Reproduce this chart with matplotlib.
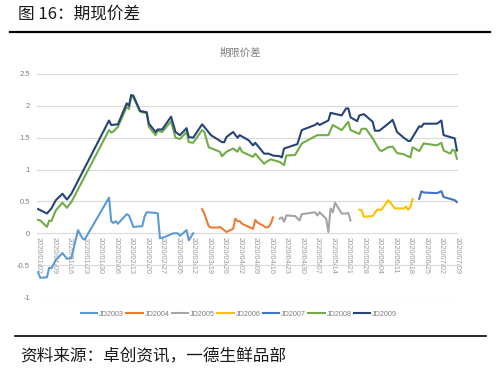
import matplotlib
matplotlib.use("Agg")
import matplotlib.pyplot as plt
import pandas as pd

# ---------------- data ----------------
jd2003_dates = ["01-02","01-03","01-06","01-07","01-08","01-10","01-13","01-15","01-17","01-20","01-22","01-23",
                "02-03","02-04","02-05","02-06","02-07","02-11","02-12","02-14","02-17","02-18","02-19","02-20",
                "02-24","02-25","02-26","02-28","03-03","03-05","03-06","03-09","03-10","03-12"]
jd2003_vals = [-0.61,-0.70,-0.69,-0.54,-0.55,-0.42,-0.31,-0.40,-0.39,0.05,-0.08,-0.10,
               0.56,0.19,0.16,0.19,0.15,0.30,0.28,0.10,0.11,0.11,0.26,0.33,
               0.32,0.31,-0.08,-0.06,0.00,0.00,-0.04,0.05,-0.11,0.00]

jd2004_dates = ["03-16","03-17","03-19","03-20","03-23","03-24","03-26","03-27","03-30","03-31","04-01","04-02",
                "04-03","04-08","04-09","04-10","04-14","04-15","04-16","04-17"]
jd2004_vals = [0.38,0.31,0.11,0.09,0.09,0.10,0.05,0.02,0.07,0.23,0.19,0.19,
               0.15,0.07,0.21,0.17,0.09,0.10,0.15,0.25]

jd2005_dates = ["04-20","04-21","04-22","04-23","04-27","04-29","04-30","05-06","05-07","05-08","05-11","05-12",
                "05-13","05-14","05-15","05-18","05-20","05-21","05-22"]
jd2005_vals = [0.23,0.25,0.18,0.28,0.27,0.20,0.30,0.33,0.28,0.33,0.23,0.02,
               0.39,0.33,0.48,0.31,0.31,0.32,0.20]

jd2006_dates = ["05-26","05-27","05-28","06-01","06-03","06-05","06-08","06-09","06-11","06-15","06-16","06-17",
                "06-18","06-19"]
jd2006_vals = [0.37,0.36,0.26,0.27,0.37,0.37,0.52,0.48,0.39,0.39,0.42,0.37,0.41,0.54]

jd2007_dates = ["06-22","06-23","06-24","06-30","07-02","07-03","07-06","07-08","07-09"]
jd2007_vals = [0.54,0.66,0.64,0.63,0.66,0.57,0.54,0.52,0.49]

jd2008_dates = ["01-02","01-03","01-06","01-07","01-08","01-10","01-13","01-15","01-17","02-03","02-04","02-05",
                "02-07","02-11","02-12","02-13","02-14","02-17","02-20","02-21","02-24","02-25","02-27","03-02",
                "03-04","03-06","03-09","03-10","03-12","03-16","03-17","03-19","03-24","03-25","03-27","03-30",
                "04-01","04-02","04-03","04-08","04-09","04-13","04-14","04-16","04-20","04-22","04-23","04-27",
                "04-30","05-07","05-12","05-14","05-18","05-21","05-22","05-26","05-27","05-29","06-01","06-04",
                "06-05","06-08","06-10","06-12","06-15","06-18","06-19","06-22","06-24","06-30","07-02","07-03",
                "07-06","07-07","07-08","07-09"]
jd2008_vals = [0.21,0.20,0.10,0.20,0.19,0.36,0.48,0.40,0.49,1.62,1.58,1.60,
               1.67,1.98,1.95,2.15,2.13,1.91,1.88,1.67,1.54,1.61,1.59,1.76,
               1.50,1.48,1.59,1.43,1.42,1.62,1.59,1.35,1.28,1.21,1.28,1.33,
               1.28,1.35,1.28,1.20,1.25,1.09,1.12,1.16,1.12,1.07,1.22,1.23,
               1.41,1.54,1.54,1.70,1.62,1.75,1.62,1.56,1.64,1.64,1.49,1.31,
               1.29,1.35,1.36,1.26,1.24,1.19,1.35,1.29,1.41,1.38,1.42,1.30,
               1.25,1.31,1.30,1.17]

jd2009_dates = ["01-02","01-06","01-08","01-10","01-13","01-15","01-17","02-03","02-04","02-07","02-11","02-12",
                "02-13","02-14","02-17","02-20","02-21","02-24","02-25","02-27","03-02","03-04","03-06","03-09",
                "03-10","03-12","03-16","03-17","03-20","03-25","03-26","03-27","03-30","04-01","04-02","04-06",
                "04-08","04-09","04-13","04-15","04-17","04-20","04-21","04-22","04-28","04-30","05-06","05-07",
                "05-08","05-12","05-13","05-18","05-20","05-21","05-22","05-25","05-26","05-28","06-01","06-02",
                "06-04","06-08","06-10","06-12","06-15","06-17","06-18","06-22","06-23","06-24","06-30","07-02",
                "07-03","07-08","07-09"]
jd2009_vals = [0.38,0.31,0.39,0.52,0.62,0.53,0.62,1.77,1.70,1.71,2.04,2.00,
               2.17,2.16,1.92,1.90,1.72,1.59,1.63,1.63,1.83,1.59,1.54,1.65,
               1.51,1.50,1.71,1.67,1.54,1.43,1.43,1.51,1.59,1.50,1.54,1.46,
               1.38,1.42,1.25,1.25,1.22,1.21,1.19,1.33,1.40,1.62,1.70,1.73,
               1.70,1.77,1.89,1.85,1.96,1.96,1.82,1.76,1.85,1.87,1.75,1.61,
               1.61,1.72,1.78,1.59,1.50,1.45,1.45,1.68,1.67,1.72,1.72,1.77,
               1.54,1.49,1.30]

series_names = ["JD2003", "JD2004", "JD2005", "JD2006", "JD2007", "JD2008", "JD2009"]
series_dates = [jd2003_dates, jd2004_dates, jd2005_dates, jd2006_dates, jd2007_dates, jd2008_dates, jd2009_dates]
series_vals = [jd2003_vals, jd2004_vals, jd2005_vals, jd2006_vals, jd2007_vals, jd2008_vals, jd2009_vals]
colors = ["#5B9BD5", "#ED7D31", "#A5A5A5", "#FFC000", "#4472C4", "#70AD47", "#264478"]

yticks = [-1, -0.5, 0, 0.5, 1, 1.5, 2, 2.5]
ytick_labels = ["-1", "-0.5", "0", "0.5", "1", "1.5", "2", "2.5"]

header = "图 16：期现价差"
chart_title = "期限价差"
source = "资料来源：卓创资讯，一德生鲜品部"

# ---------------- figure ----------------
cjk = ["Noto Sans CJK SC", "DejaVu Sans"]
W, H = 500, 371
fig = plt.figure(figsize=(W / 100, H / 100), dpi=100)
fig.patch.set_facecolor("white")

ax = fig.add_axes([37 / W, 1 - 297 / H, (458 - 37) / W, (297 - 74) / H])

for name, ds, vs, c in zip(series_names, series_dates, series_vals, colors):
    x = pd.to_datetime(["2020-" + d for d in ds])
    ax.plot(x, vs, color=c, lw=1.5, label=name, solid_joinstyle="round")

ax.set_ylim(-1, 2.5)
ax.set_yticks(yticks)
ax.set_yticklabels(ytick_labels)
ax.set_xlim(pd.Timestamp("2020-01-01 12:00"), pd.Timestamp("2020-07-09 12:00"))

xt = pd.date_range("2020-01-02", "2020-07-09", freq="7D")
ax.set_xticks(xt)
ax.set_xticklabels([d.strftime("%Y/%m/%d") for d in xt])

ax.grid(axis="y", color="#D9D9D9", lw=0.8)
ax.set_axisbelow(True)
for s in ["top", "right", "left"]:
    ax.spines[s].set_visible(False)
ax.spines["bottom"].set_position(("data", 0))
ax.spines["bottom"].set_visible(False)

ax.tick_params(axis="both", length=0, colors="#7F7F7F")
for lab in ax.get_yticklabels():
    lab.set_fontsize(5.5)
    lab.set_family("Liberation Sans")
    lab.set_color("#7F7F7F")
for lab in ax.get_xticklabels():
    lab.set_fontsize(5.3)
    lab.set_family("Liberation Sans")
    lab.set_rotation(-90)
    lab.set_color("#999999")
    lab.set_va("top")
    lab.set_ha("center")
ax.tick_params(axis="x", pad=3)
ax.tick_params(axis="y", pad=5)

leg = fig.legend(loc="center", bbox_to_anchor=(239 / W, 1 - 314 / H), ncol=7, frameon=False,
                 prop={"family": "Liberation Sans", "size": 5.2}, handlelength=2.3,
                 handletextpad=0.25, columnspacing=0.3)
for t in leg.get_texts():
    t.set_color("#7F7F7F")

fig.text(240 / W, 1 - 53 / H, chart_title, ha="center", va="center", fontsize=7.5,
         color="#7F7F7F", family=cjk)
fig.text(18 / W, 1 - 14 / H, header, ha="left", va="center", fontsize=12,
         color="#1A1A1A", family=cjk, fontweight="medium")
fig.text(20 / W, 1 - 357 / H, source, ha="left", va="center", fontsize=12,
         color="#1A1A1A", family=cjk)

fig.add_artist(plt.Line2D([10 / W, 490 / W], [1 - 32 / H, 1 - 32 / H], color="black", lw=1.6))
fig.add_artist(plt.Line2D([15 / W, 486 / W], [1 - 336 / H, 1 - 336 / H], color="black", lw=1.2))

fig.savefig("out.png", dpi=100, facecolor="white")
